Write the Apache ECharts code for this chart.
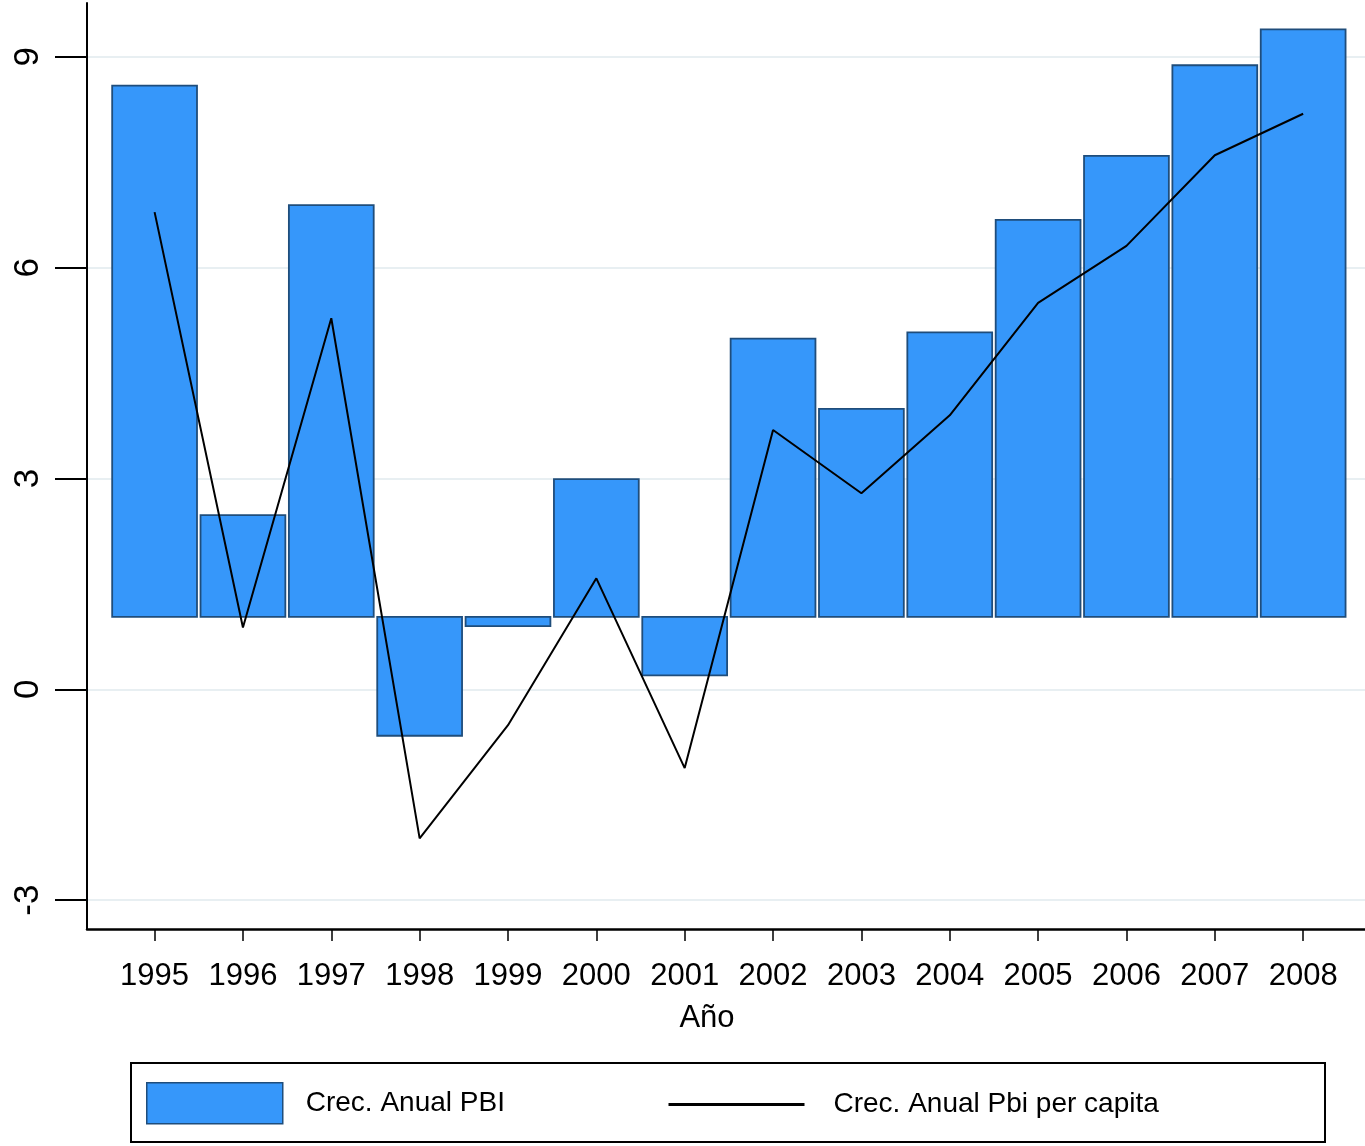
<!DOCTYPE html>
<html><head><meta charset="utf-8">
<script src="https://cdn.jsdelivr.net/npm/echarts@6/dist/echarts.min.js"></script>
<style>html,body{margin:0;padding:0;background:#fff}#c{width:1365px;height:1146px}</style>
</head><body><div id="c"></div>
<script>
const years = [1995,1996,1997,1998,1999,2000,2001,2002,2003,2004,2005,2006,2007,2008];
const pbiGrowth = [8.59,2.48,6.89,-0.66,0.90,2.99,0.20,4.99,3.99,5.08,6.68,7.59,8.88,9.39];
const pbiPerCapitaGrowth = [6.79,0.88,5.28,-2.12,-0.51,1.58,-1.12,3.69,2.79,3.90,5.50,6.31,7.60,8.19];
const yTicks = [-3,0,3,6,9];
const barBase = 1.03;
const seriesNames = ['Crec. Anual PBI','Crec. Anual Pbi per capita'];
const xTitle = 'Año';

const FONT = "'Liberation Sans Narrow','Arial Narrow','Liberation Sans',Arial,sans-serif";
const BAR_FILL = '#3697fa';
const BAR_EDGE = '#1f4d7b';

const chart = echarts.init(document.getElementById('c'), null, {renderer:'canvas'});
chart.setOption({
  backgroundColor:'#fff',
  animation:false,
  grid:{left:87,right:0,top:3,bottom:217,containLabel:false,outerBoundsMode:'none'},
  xAxis:{
    type:'value', min:1994.235, max:2008.70,
    axisLine:{show:true,onZero:false,lineStyle:{color:'#000',width:2.5}},
    axisTick:{show:true,customValues:years,length:12,lineStyle:{color:'#000',width:1.5}},
    axisLabel:{customValues:years,formatter:v=>String(v),fontFamily:FONT,fontSize:31,color:'#000',margin:32},
    splitLine:{show:false},
    name:xTitle, nameLocation:'middle', nameGap:74,
    nameTextStyle:{fontFamily:FONT,fontSize:31,color:'#000',padding:[0,38,0,0]}
  },
  yAxis:{
    type:'value', min:-3.41, max:9.766,
    axisLine:{show:true,onZero:false,lineStyle:{color:'#000',width:2}},
    axisTick:{show:true,customValues:yTicks,length:32,lineStyle:{color:'#000',width:2}},
    axisLabel:{customValues:yTicks,rotate:90,fontFamily:FONT,fontSize:35,color:'#000',margin:41},
    splitLine:{show:true,lineStyle:{color:'#e8eff2',width:2}}
  },
  legend:[
    {left:146,top:1082,padding:0,itemWidth:136,itemHeight:41,data:[{name:seriesNames[0],icon:'rect',
      itemStyle:{color:BAR_FILL,borderColor:BAR_EDGE,borderWidth:1.5}}],
     textStyle:{fontFamily:FONT,fontSize:28,color:'#000',padding:[22,0,0,18]},selectedMode:false},
    {left:667,top:1088,padding:0,itemWidth:136,itemHeight:41,data:[{name:seriesNames[1],
      itemStyle:{opacity:0},lineStyle:{color:'#000',width:3}}],
     textStyle:{fontFamily:FONT,fontSize:28,color:'#000',padding:[10,0,0,24]},selectedMode:false}
  ],
  graphic:[{type:'rect',shape:{x:131,y:1063,width:1194,height:79},style:{fill:'none',stroke:'#000',lineWidth:2},silent:true}],
  series:[
    {
      name:seriesNames[0], type:'custom',
      itemStyle:{color:BAR_FILL,borderColor:BAR_EDGE,borderWidth:1.5},
      data:years.map((y,i)=>[y,pbiGrowth[i]]),
      encode:{x:0,y:1},
      renderItem:function(params,api){
        const x=api.value(0), v=api.value(1);
        const p0=api.coord([x,barBase]);
        const p1=api.coord([x,v]);
        const w=api.size([1,0])[0]*0.96;
        return {type:'rect',
          shape:{x:p0[0]-w/2,y:Math.min(p0[1],p1[1]),width:w,height:Math.abs(p1[1]-p0[1])},
          style:{fill:BAR_FILL,stroke:BAR_EDGE,lineWidth:1.8}};
      },
      z:2
    },
    {
      name:seriesNames[1], type:'line',
      data:years.map((y,i)=>[y,pbiPerCapitaGrowth[i]]),
      symbol:'none', showSymbol:false,
      lineStyle:{color:'#000',width:2}, itemStyle:{color:'#000'},
      z:3
    }
  ]
});
</script></body></html>
